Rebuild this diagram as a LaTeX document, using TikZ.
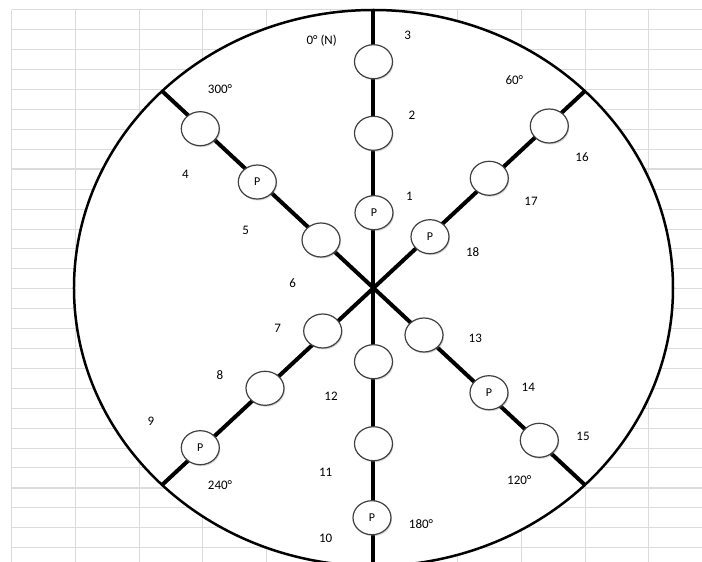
\documentclass[tikz,border=0pt]{standalone}
\usepackage{fontspec}
\setmainfont{Carlito}
\usetikzlibrary{shapes.geometric,shadows}

\tikzset{
  gridline/.style={draw=black!14, line width=1pt},
  spoke/.style={line width=4pt},
  well/.style={ellipse, draw=black!75, line width=1.2pt, fill=white,
    minimum width=38pt, minimum height=34pt, inner sep=0pt,
    drop shadow={shadow xshift=1pt, shadow yshift=-1.5pt, opacity=.3},
    font=\fontsize{12}{14}\selectfont},
  num/.style={font=\fontsize{13}{15}\selectfont, inner sep=0pt},
}

\begin{document}
\begin{tikzpicture}[x=1pt,y=1pt]
    \useasboundingbox (-373.5,-274) rectangle (328.5,288);
    % sheet grid
    \foreach \i in {0,...,10}
	\draw[gridline] (-361.8+63.7*\i,278) -- (-361.8+63.7*\i,-274);
    \foreach \j in {0,...,27}
	\draw[gridline] (-361.8,278-19.91*\j) -- (328.5,278-19.91*\j);
    \foreach \j in {8,24}
	\draw[gridline, line width=1.8pt] (-361.8,278-19.91*\j) -- (328.5,278-19.91*\j);
    % field
    \draw[line width=2.5pt, fill=white] (0,0) ellipse [x radius=299.5, y radius=278];
    \coordinate (c) at (0,0);
    \coordinate (n) at (0,278);
    \coordinate (s) at (0,-278);
    \coordinate (nw) at (-211.8,197.3);
    \coordinate (se) at (211.8,-197.3);
    \coordinate (ne) at (211.8,197.3);
    \coordinate (sw) at (-211.8,-197.3);
    \draw[spoke] (n) -- (c) -- (s);
    \draw[spoke] (nw) -- (c) -- (se);
    \draw[spoke] (ne) -- (c) -- (sw);
    % wells
    \foreach \name/\pos/\txt in {w3/{0,226.3}/{}, w2/{0,154.7}/{}, w1/{0.5,75.3}/P,
	w12/{0,-73.7}/{}, w11/{0,-155.7}/{}, w10/{-1.5,-229.7}/P,
	w4/{-173.2,159.3}/{}, w5/{-116.2,106}/P, w6/{-52.5,48}/{},
	w16/{175.8,162}/{}, w17/{115.8,109.7}/{}, w18/{56.5,51.3}/P,
	w7/{-50.8,-43}/{}, w8/{-108.5,-100.3}/{}, w9/{-173.2,-159.7}/P,
	w13/{50.5,-47}/{}, w14/{115.5,-104.7}/P, w15/{165.8,-152.3}/{}}
	\node[well] (\name) at (\pos) {\txt};
    % labels
    \foreach \name/\pos/\txt in {north/{-51.8,247.3}/{0° (N)}, a300/{-153.5,199}/300°,
	a60/{140.8,208}/60°, a120/{145.8,-192}/120°, a240/{-153.5,-197.3}/240°,
	a180/{47.5,-235.7}/180°,
	l1/{35.8,91.3}/1, l2/{38.5,173}/2, l3/{34.2,253}/3,
	l4/{-188.2,114}/4, l5/{-127.8,58}/5, l6/{-80.8,4.5}/6,
	l7/{-95.8,-40.7}/7, l8/{-153.5,-87}/8, l9/{-222.5,-133}/9,
	l10/{-47.8,-250.3}/10, l11/{-47.8,-184.7}/11, l12/{-42.5,-108}/12,
	l13/{101.8,-50.7}/13, l14/{154.8,-99}/14, l15/{209.5,-148}/15,
	l16/{208.5,131.3}/16, l17/{157.5,86.3}/17, l18/{99.2,35.7}/18}
	\node[num] (\name) at (\pos) {\txt};
\end{tikzpicture}
\end{document}
